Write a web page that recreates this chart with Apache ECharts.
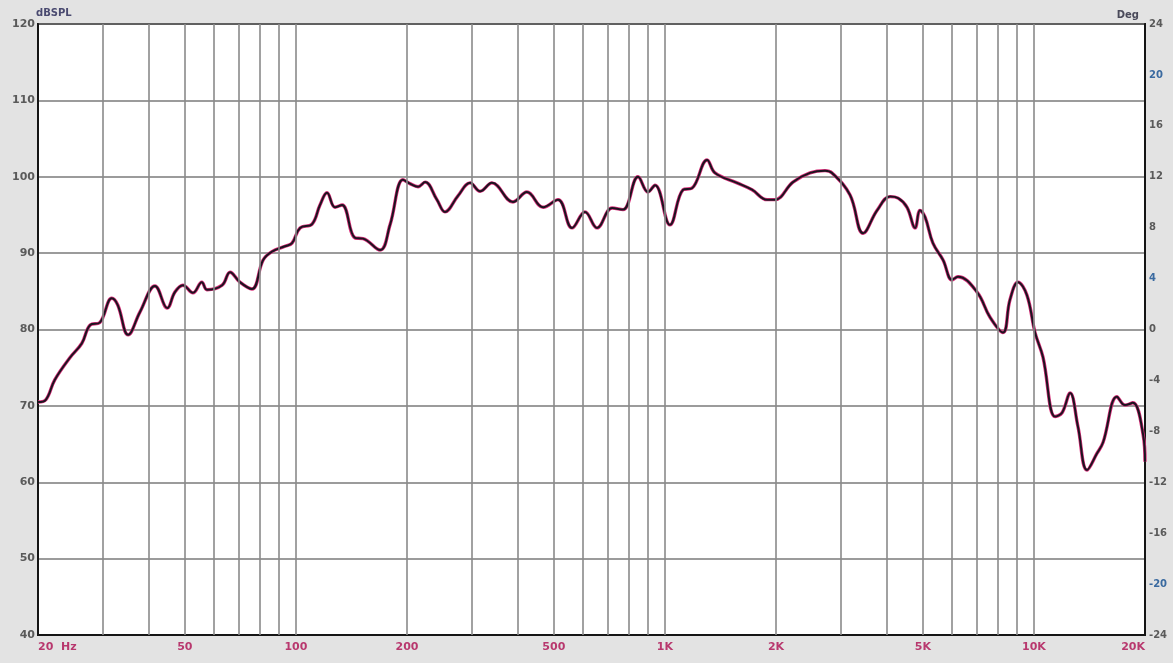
<!DOCTYPE html>
<html>
<head>
<meta charset="utf-8">
<script src="https://cdn.jsdelivr.net/npm/echarts@6/dist/echarts.min.js"></script>
<style>
html,body{margin:0;padding:0;background:#e3e3e3;}
#c{width:1173px;height:663px;}
</style>
</head>
<body>
<div id="c"></div>
<script>
// Frequency (Hz) and SPL (dB)
const freqs = [20,21,22.2,24.4,26.3,27.7,29.4,31.7,32.9,35.1,37.8,41.5,44.8,47,49.4,52.6,55.6,57.4,63.1,66.3,70.5,76,81.5,86.1,93.4,97.6,102.6,110.6,116.2,121.4,127.6,133.4,144.6,152,169.1,179.9,195,203.7,214.3,223.9,241,253.5,274.9,296.5,315.6,339.8,387.5,422.7,467.6,513.2,560.2,607.3,654.6,719.4,769.6,845.5,899.6,940,1032,1120,1184,1301,1367,1568,1722,1892,1988,2223,2473,2716,2838,3175,3445,3759,4075,4285,4530,4765,4911,5071,5325,5672,6000,6225,7013,7604,8243,8611,9055,9573,10070,10580,11410,11920,12530,13160,13930,14830,15390,16790,17650,18540,19770,20000];
const spl = [70.5,70.8,73.4,76.3,78.2,80.6,80.9,84.1,83.2,79.3,82.3,85.7,82.8,84.9,85.8,84.8,86.2,85.2,85.8,87.5,86.2,85.3,89.1,90.2,90.9,91.3,93.3,93.8,96.3,97.9,96.0,96.3,92.0,91.9,90.4,93.7,99.6,99.1,98.7,99.3,97.0,95.4,97.5,99.2,98.1,99.2,96.7,98.0,96.0,97.0,93.3,95.4,93.3,95.9,95.7,100.0,98.0,98.9,93.7,98.3,98.5,102.2,100.5,99.2,98.3,97.0,97.0,99.3,100.5,100.8,100.5,97.6,92.6,95.6,97.4,97.2,96.0,93.3,95.6,94.7,91.3,89.1,86.5,86.9,84.9,81.6,79.6,83.9,86.2,84.5,79.6,76.4,68.6,69.1,71.7,67.3,61.6,63.8,65.2,71.2,70.1,70.4,66.2,62.7];
const gridFreqs = [30,40,50,60,70,80,90,100,200,300,400,500,600,700,800,900,1000,2000,3000,4000,5000,6000,7000,8000,9000,10000];
const xTickValues = [20,50,100,200,500,1000,2000,5000,10000,20000];
const xTickLabels = ['20  Hz','50','100','200','500','1K','2K','5K','10K','20K'];
const leftTicks = [40,50,60,70,80,90,100,110,120];
const blueRight = [20,4,-20];

const data = freqs.map((f,i)=>[f,spl[i]]);
const chart = echarts.init(document.getElementById('c'));
chart.setOption({
  backgroundColor:'#e3e3e3',
  animation:false,
  grid:{left:38,right:28,top:24,bottom:28,show:true,backgroundColor:'#ffffff',borderColor:'#151515',borderWidth:2},
  xAxis:{type:'log',logBase:10,min:20,max:20000,
    axisLine:{show:true,onZero:false,lineStyle:{color:'#151515',width:2}},
    axisTick:{show:false},splitLine:{show:false},minorSplitLine:{show:false},
    axisLabel:{customValues:xTickValues,color:'#b8386e',fontWeight:'bold',fontSize:11,fontFamily:'DejaVu Sans',margin:7,
      formatter:(v)=>{const i=xTickValues.findIndex(t=>Math.abs(t-v)/t<1e-6);return i>=0?xTickLabels[i]:'';},
      alignMinLabel:'left',alignMaxLabel:'right'}
  },
  yAxis:[
    {type:'value',min:40,max:120,interval:10,name:'dBSPL',nameLocation:'end',nameGap:4,
      nameTextStyle:{color:'#4a4a70',fontSize:10,fontWeight:'bold',align:'left',padding:[0,0,0,-2],fontFamily:'DejaVu Sans'},
      axisLine:{show:true,onZero:false,lineStyle:{color:'#151515',width:2}},axisTick:{show:false},
      splitLine:{show:true,lineStyle:{color:'#7a7a7a',width:1.6}},
      axisLabel:{color:'#5a5a5a',fontWeight:'bold',fontSize:11,fontFamily:'DejaVu Sans',margin:3,
        customValues:leftTicks}},
    {type:'value',min:-24,max:24,interval:4,position:'right',name:'Deg',nameLocation:'end',nameGap:4,
      nameTextStyle:{color:'#4a4a5a',fontSize:10,fontWeight:'bold',align:'right',padding:[0,6,0,0],fontFamily:'DejaVu Sans'},
      axisLine:{show:true,onZero:false,lineStyle:{color:'#151515',width:2}},axisTick:{show:false},splitLine:{show:false},
      axisLabel:{fontWeight:'bold',fontSize:10,fontFamily:'DejaVu Sans',margin:4,
        formatter:(v)=>blueRight.indexOf(v)>=0?'{b|'+v+'}':'{g|'+v+'}',
        rich:{b:{color:'#3a6aa0',fontWeight:'bold',fontSize:10},g:{color:'#5a5a5a',fontWeight:'bold',fontSize:10}}}}
  ],
  series:[
    {type:'line',data:data,smooth:0.4,showSymbol:false,symbol:'none',silent:true,z:3,
      lineStyle:{color:'#d8307a',width:3.4},
      markLine:{silent:true,symbol:'none',label:{show:false},animation:false,
        lineStyle:{color:'#8a8a8a',width:1.6,type:'solid'},
        data:gridFreqs.map(f=>({xAxis:f}))}},
    {type:'line',data:data,smooth:0.4,showSymbol:false,symbol:'none',silent:true,z:4,
      lineStyle:{color:'#1c1420',width:2}}
  ]
});
</script>
</body>
</html>
